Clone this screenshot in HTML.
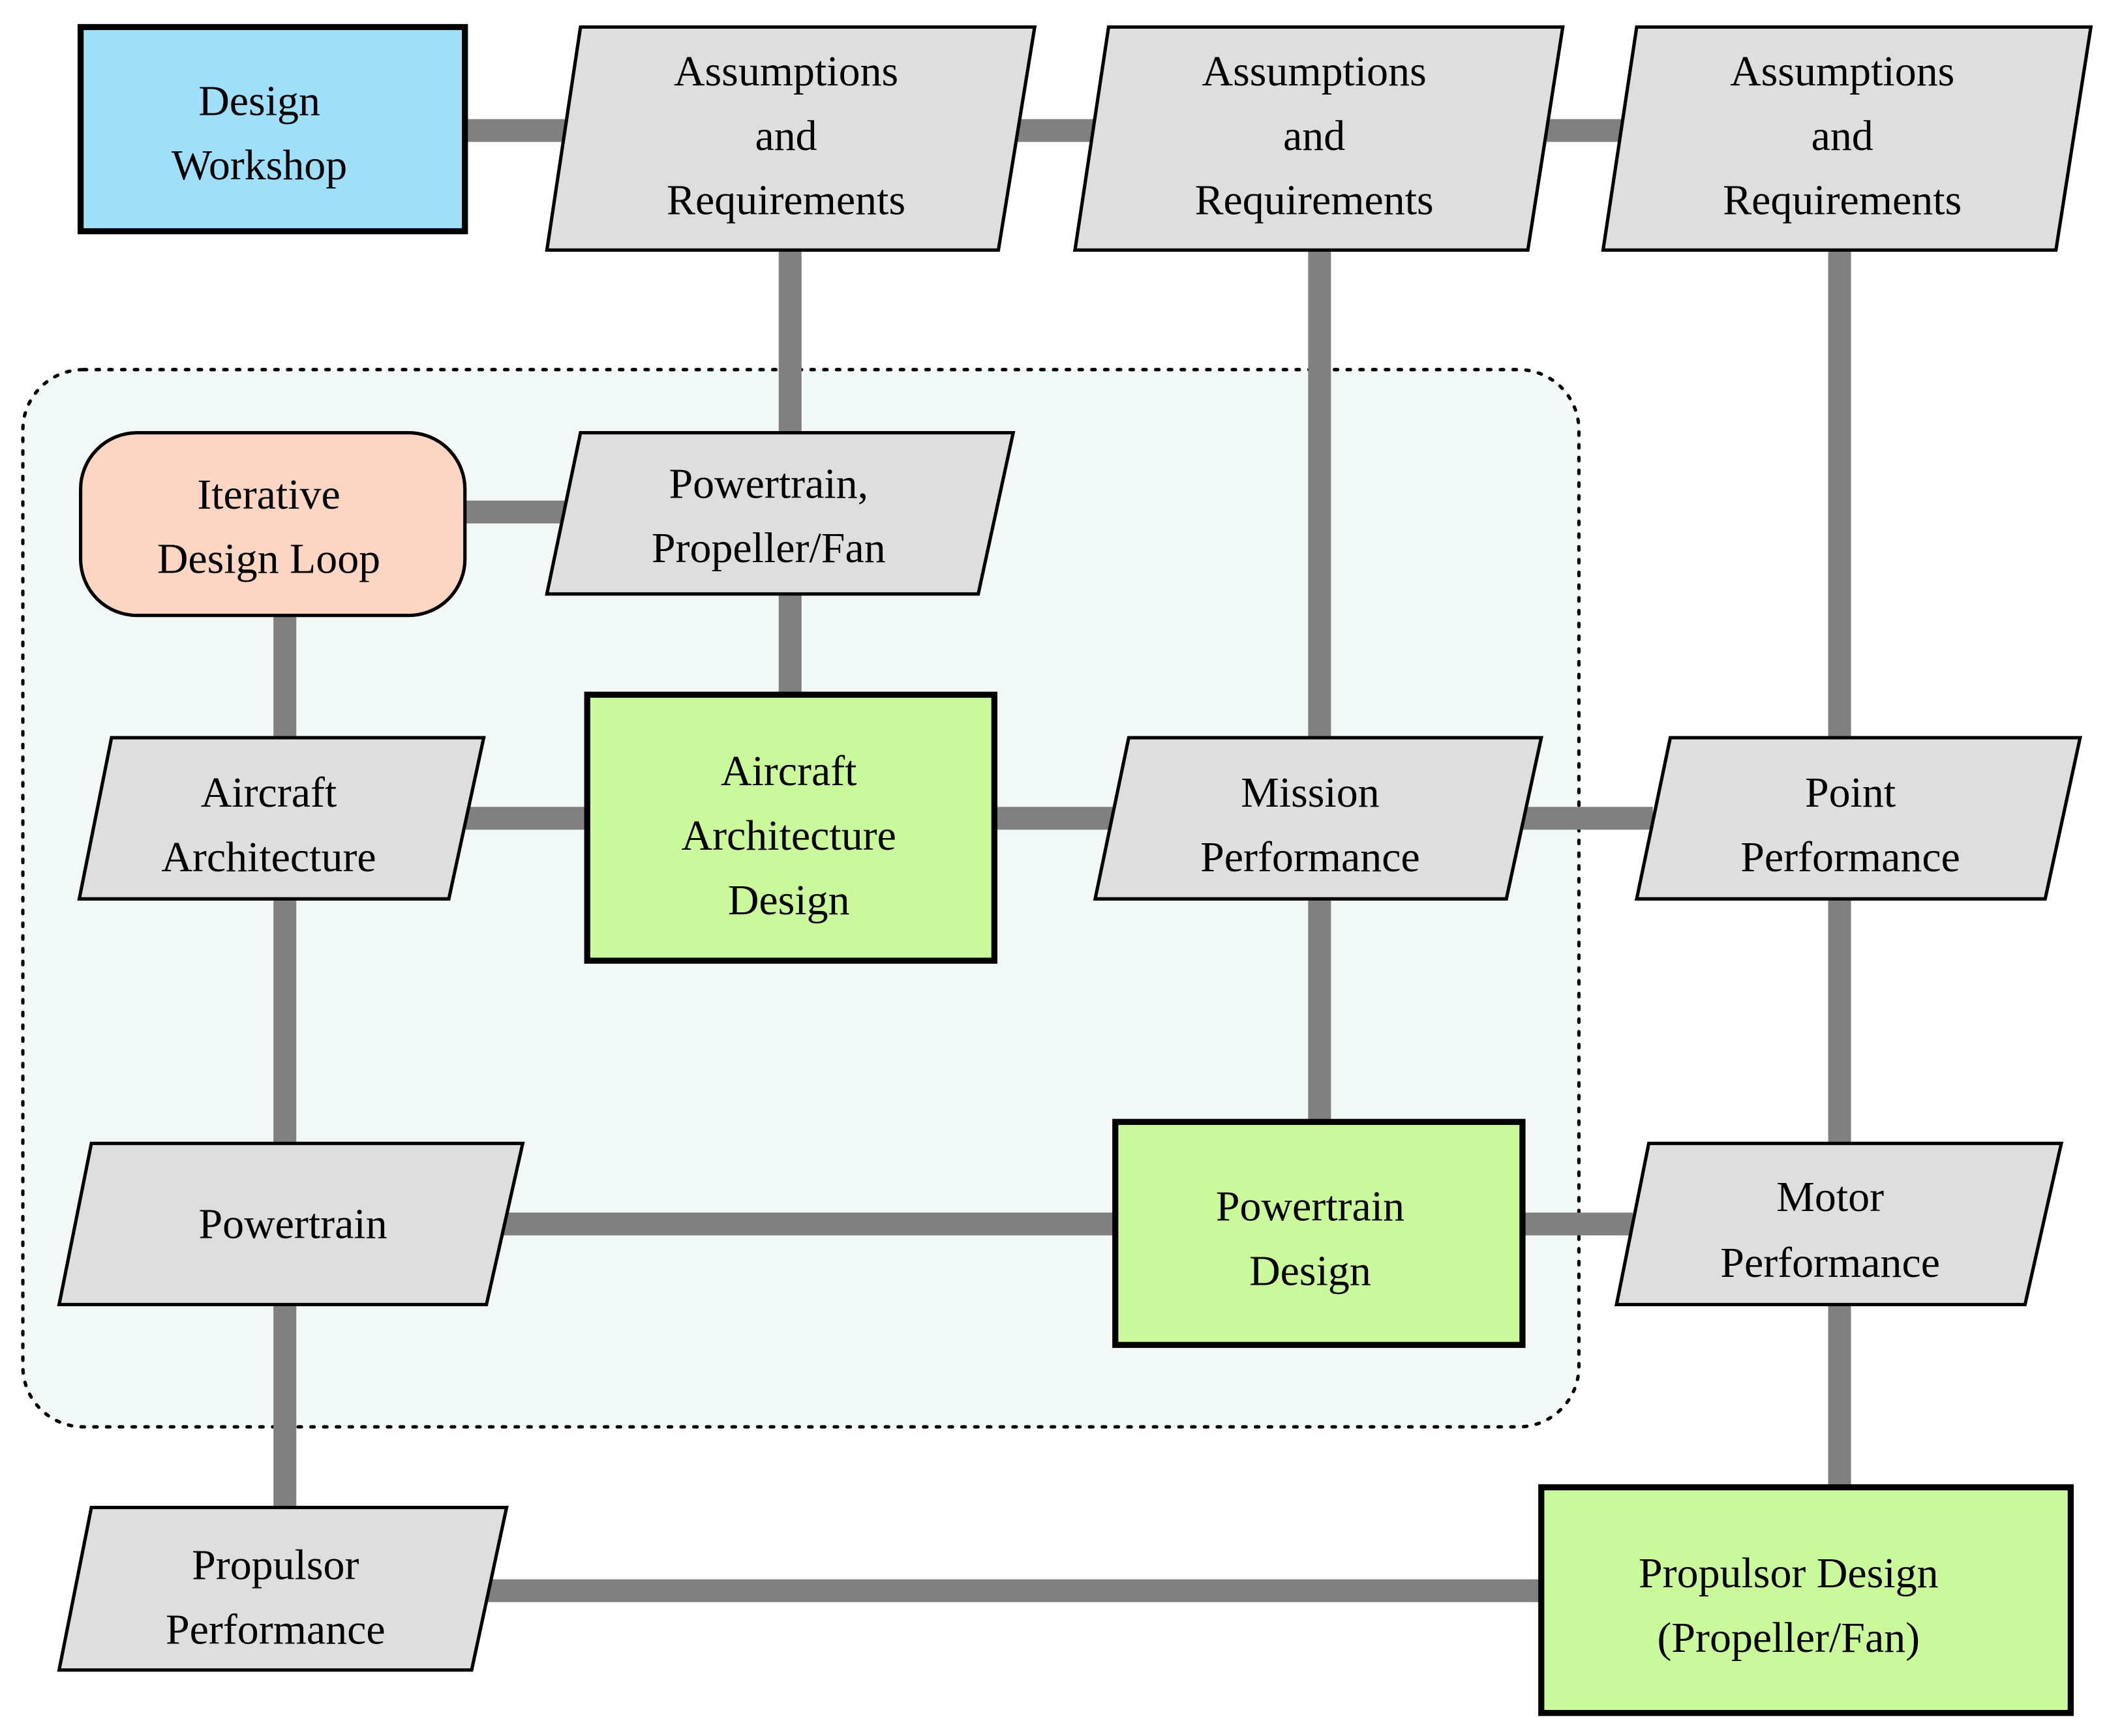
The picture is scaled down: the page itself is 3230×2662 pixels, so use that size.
<!DOCTYPE html>
<html><head><meta charset="utf-8"><style>
html,body{margin:0;padding:0;background:#fff;}
svg{display:block;}
text{font-family:"Liberation Serif",serif;font-size:32px;fill:#000;text-anchor:middle;dominant-baseline:central;}
</style></head><body>
<svg width="3230" height="2662" viewBox="0 0 1568 1292" xmlns="http://www.w3.org/2000/svg">
<rect x="0" y="0" width="1568" height="1292" fill="#fff"/>
<rect x="17" y="275" width="1158" height="787" rx="45" ry="45" fill="#f2f7f7" stroke="#000" stroke-width="2.5" stroke-dasharray="2.5,7" stroke-linecap="round"/>
<g stroke="#808080" stroke-width="17" fill="none">
<line x1="346" y1="97" x2="1210" y2="97"/>
<line x1="588" y1="186" x2="588" y2="517"/>
<line x1="982" y1="186" x2="982" y2="835"/>
<line x1="1369" y1="186" x2="1369" y2="1107"/>
<line x1="346" y1="381" x2="420" y2="381"/>
<line x1="212" y1="458" x2="212" y2="1122"/>
<line x1="340" y1="609" x2="1230" y2="609"/>
<line x1="370" y1="911" x2="1215" y2="911"/>
<line x1="360" y1="1184" x2="1147" y2="1184"/>
</g>
<g stroke="#000" stroke-width="2.5" fill="#dedede" stroke-linejoin="miter">
<polygon points="432,20 770,20 743,186 407,186"/>
<polygon points="825,20 1163,20 1137,186 800,186"/>
<polygon points="1218,20 1556,20 1530,186 1193,186"/>
<polygon points="432,322 754,322 728,442 407,442"/>
<polygon points="83,549 360,549 334,669 59,669"/>
<polygon points="840,549 1147,549 1121,669 815,669"/>
<polygon points="1243,549 1548,549 1522,669 1218,669"/>
<polygon points="68,851 389,851 362,971 44,971"/>
<polygon points="1227,851 1534,851 1507,971 1203,971"/>
<polygon points="68,1122 377,1122 351,1243 44,1243"/>
</g>
<rect x="60" y="20" width="286" height="152" fill="#a0dffa" stroke="#000" stroke-width="4.5"/>
<rect x="60" y="322" width="286" height="136" rx="42" ry="42" fill="#fdd6c3" stroke="#000" stroke-width="2.5"/>
<g fill="#caf99c" stroke="#000" stroke-width="4.5">
<rect x="437" y="517" width="303" height="198"/>
<rect x="830" y="835" width="303" height="166"/>
<rect x="1147" y="1107" width="394" height="168"/>
</g>
<text x="193" y="75">Design</text><text x="193" y="123">Workshop</text>
<text x="585" y="53">Assumptions</text><text x="585" y="101">and</text><text x="585" y="149">Requirements</text>
<text x="978" y="53">Assumptions</text><text x="978" y="101">and</text><text x="978" y="149">Requirements</text>
<text x="1371" y="53">Assumptions</text><text x="1371" y="101">and</text><text x="1371" y="149">Requirements</text>
<text x="200" y="368">Iterative</text><text x="200" y="416">Design Loop</text>
<text x="572" y="360">Powertrain,</text><text x="572" y="408">Propeller/Fan</text>
<text x="200" y="590">Aircraft</text><text x="200" y="638">Architecture</text>
<text x="587" y="574">Aircraft</text><text x="587" y="622">Architecture</text><text x="587" y="670">Design</text>
<text x="975" y="590">Mission</text><text x="975" y="638">Performance</text>
<text x="1377" y="590">Point</text><text x="1377" y="638">Performance</text>
<text x="218" y="911">Powertrain</text>
<text x="975" y="898">Powertrain</text><text x="975" y="946">Design</text>
<text x="1362" y="891">Motor</text><text x="1362" y="940">Performance</text>
<text x="205" y="1165">Propulsor</text><text x="205" y="1213">Performance</text>
<text x="1331" y="1171">Propulsor Design</text><text x="1331" y="1219">(Propeller/Fan)</text>
</svg>
</body></html>
